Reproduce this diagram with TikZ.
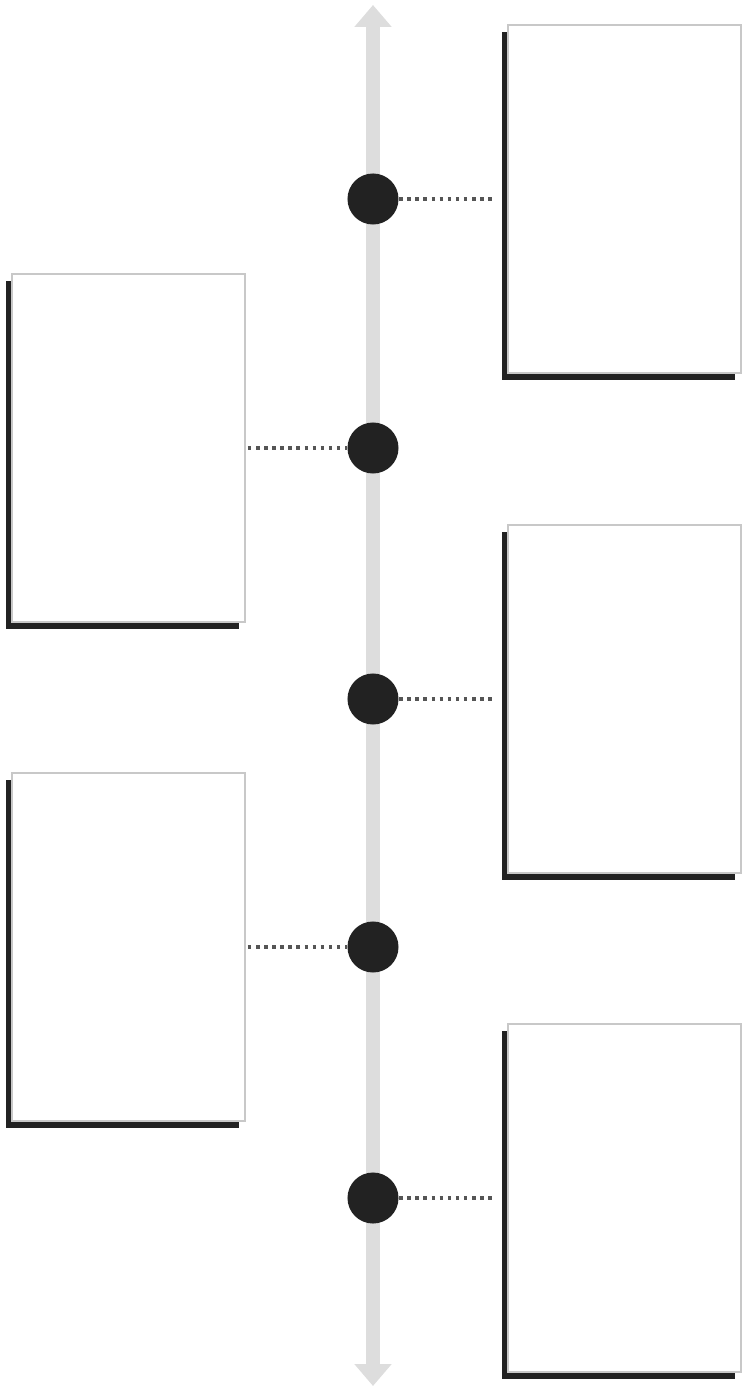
\documentclass[tikz,border=0pt]{standalone}
\usetikzlibrary{arrows.meta,shadows}
\definecolor{axis}{HTML}{DDDDDD}
\definecolor{ink}{HTML}{222222}
\definecolor{rim}{HTML}{C8C8C8}
\definecolor{dots}{HTML}{555555}

\begin{document}
\begin{tikzpicture}[x=0.01cm, y=-0.01cm,
  card/.style={draw=rim, line width=0.5pt, fill=white, inner sep=0pt,
               minimum width=23.3mm, minimum height=34.8mm,
               drop shadow={shadow xshift=-0.6mm, shadow yshift=-0.7mm,
                            fill=ink, opacity=1}},
  mark dot/.style={circle, fill=ink, draw=none, minimum size=5.1mm, inner sep=0pt},
  link/.style={dots, line width=1.1pt, dash pattern=on 1pt off 1.3pt},
]
  \useasboundingbox (0,0) rectangle (744,1389);

  % eje central con flechas en ambos extremos
  \coordinate (top) at (373,5);
  \coordinate (bot) at (373,1386);
  \draw[axis, line width=4pt,
        {Triangle[width=3.6mm,length=2.2mm]}-{Triangle[width=3.6mm,length=2.2mm]}]
    (top) -- (bot);

  % tarjetas a la derecha
  \node[card] (r1) at (624.5,199)  {};
  \node[card] (r2) at (624.5,699)  {};
  \node[card] (r3) at (624.5,1198) {};
  % tarjetas a la izquierda
  \node[card] (l1) at (128.5,448) {};
  \node[card] (l2) at (128.5,947) {};

  % puntos sobre el eje
  \node[mark dot] (d1) at (373,199)  {};
  \node[mark dot] (d2) at (373,448)  {};
  \node[mark dot] (d3) at (373,699)  {};
  \node[mark dot] (d4) at (373,947)  {};
  \node[mark dot] (d5) at (373,1198) {};

  % conectores punteados
  \draw[link, shorten >=1.2mm] (d1) -- (r1);
  \draw[link, shorten <=0.2mm] (l1) -- (d2);
  \draw[link, shorten >=1.2mm] (d3) -- (r2);
  \draw[link, shorten <=0.2mm] (l2) -- (d4);
  \draw[link, shorten >=1.2mm] (d5) -- (r3);
\end{tikzpicture}
\end{document}
